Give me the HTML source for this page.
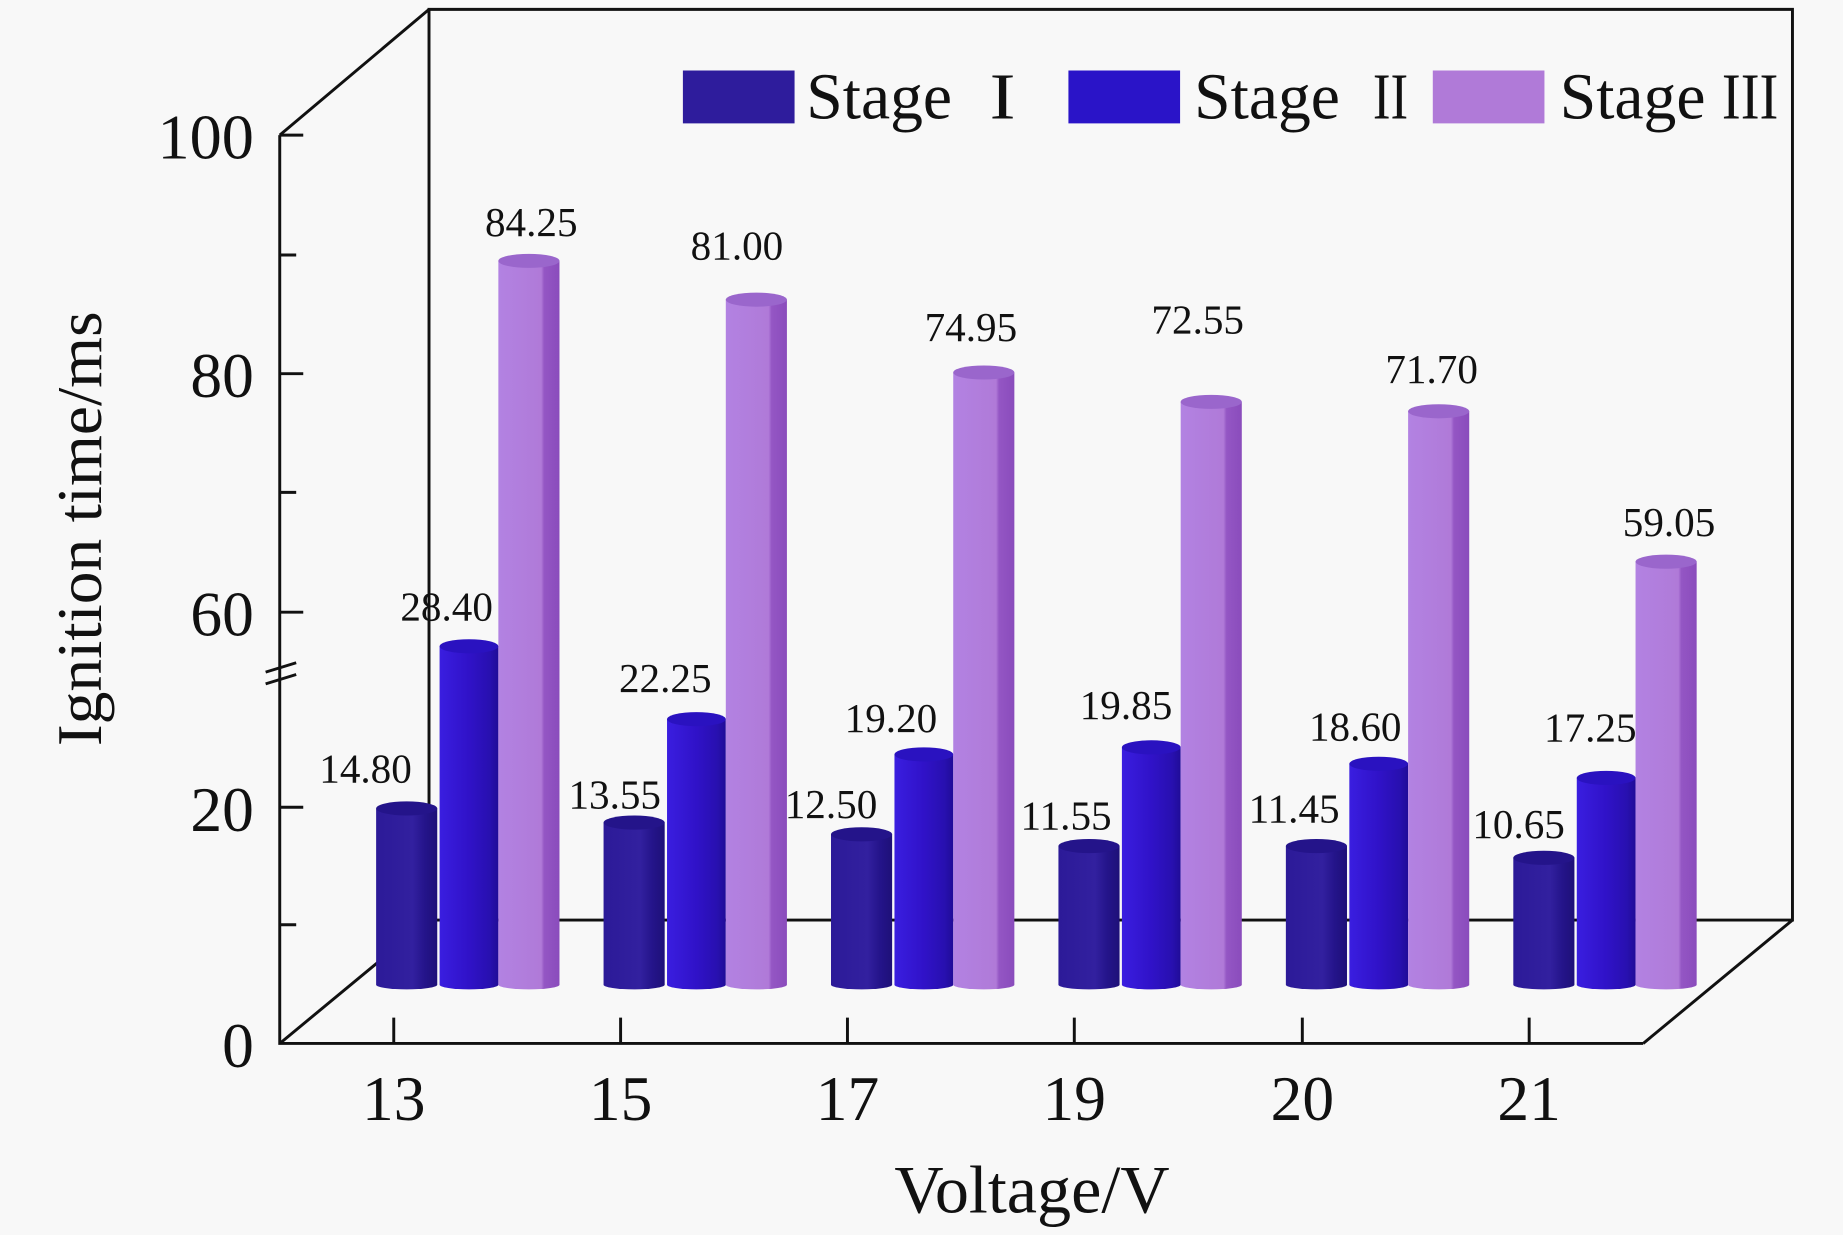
<!DOCTYPE html>
<html><head><meta charset="utf-8"><style>
html,body{margin:0;padding:0;background:#f8f8f8;}
svg{display:block;}
text{font-family:"Liberation Serif",serif;fill:#111;}
</style></head><body>
<svg width="1843" height="1235" viewBox="0 0 1568 1051" preserveAspectRatio="none" xmlns="http://www.w3.org/2000/svg">
<defs>
<linearGradient id="g1" x1="0" x2="1"><stop offset="0" stop-color="#2c1a98"/><stop offset="0.6" stop-color="#32209f"/><stop offset="0.8" stop-color="#24148a"/><stop offset="1" stop-color="#1e1078"/></linearGradient>
<linearGradient id="g2" x1="0" x2="1"><stop offset="0" stop-color="#3a1ee0"/><stop offset="0.5" stop-color="#3012c8"/><stop offset="0.85" stop-color="#2810b0"/><stop offset="1" stop-color="#200c98"/></linearGradient>
<linearGradient id="g3" x1="0" x2="1"><stop offset="0" stop-color="#b282e2"/><stop offset="0.7" stop-color="#b07ad8"/><stop offset="0.75" stop-color="#9456c4"/><stop offset="1" stop-color="#8a4cbc"/></linearGradient>
</defs>
<rect width="1568" height="1051" fill="#f8f8f8"/>
<g stroke="#111" stroke-width="2.5" fill="none">
<path d="M365 783 V8 H1525 V783 H365"/>
<path d="M238 115 L365 8"/>
<path d="M238 888 L365 783"/>
<path d="M1398 888 L1525 783"/>
<path d="M238 115 V888 H1398"/>
<path d="M238 115 h20 M238 217 h14 M238 318 h20 M238 419 h14 M238 521 h20 M238 687 h20 M238 787 h14"/>
<path d="M335 888 v-22 M528 888 v-22 M721 888 v-22 M914 888 v-22 M1108 888 v-22 M1301 888 v-22"/>
<path d="M226 572 l26 -8 M226 582 l26 -8"/>
</g>
<g font-size="54" text-anchor="end">
<text x="216" y="135" textLength="82" lengthAdjust="spacingAndGlyphs">100</text><text x="216" y="338">80</text><text x="216" y="541">60</text><text x="216" y="707">20</text><text x="216" y="908">0</text>
</g>
<g font-size="54" text-anchor="middle">
<text x="335" y="953">13</text><text x="528" y="953">15</text><text x="721" y="953">17</text><text x="914" y="953">19</text><text x="1108" y="953">20</text><text x="1301" y="953">21</text>
<text x="878" y="1032" font-size="58">Voltage/V</text>
<text transform="translate(86,450) rotate(-90)" font-size="54" textLength="370" lengthAdjust="spacingAndGlyphs">Ignition time/ms</text>
</g>
<g id="bars"></g>
<g font-size="35" text-anchor="middle">
<text x="311" y="666">14.80</text><text x="380" y="528">28.40</text><text x="452" y="201">84.25</text>
<text x="523" y="688">13.55</text><text x="566" y="589">22.25</text><text x="627" y="221">81.00</text>
<text x="707" y="696">12.50</text><text x="758" y="623">19.20</text><text x="826" y="290">74.95</text>
<text x="907" y="706">11.55</text><text x="958" y="612">19.85</text><text x="1019" y="284">72.55</text>
<text x="1101" y="700">11.45</text><text x="1153" y="630">18.60</text><text x="1218" y="326">71.70</text>
<text x="1292" y="713">10.65</text><text x="1353" y="631">17.25</text><text x="1420" y="456">59.05</text>
</g>
<rect x="581" y="60" width="95" height="45" fill="#2e1c9c"/>
<rect x="909" y="60" width="95" height="45" fill="#2a14c8"/>
<rect x="1219" y="60" width="95" height="45" fill="#b07ad8"/>
<g font-size="56">
<text x="686" y="101" textLength="124" lengthAdjust="spacingAndGlyphs">Stage</text>
<text x="1016" y="101" textLength="124" lengthAdjust="spacingAndGlyphs">Stage</text>
<text x="1327" y="101" textLength="124" lengthAdjust="spacingAndGlyphs">Stage</text>
<text x="842" y="101" textLength="22" lengthAdjust="spacingAndGlyphs">I</text>
<text x="1168" y="101" textLength="30" lengthAdjust="spacingAndGlyphs">II</text>
<text x="1465" y="101" textLength="48" lengthAdjust="spacingAndGlyphs">III</text>
</g>
</svg>
<script>
var tops=[[688,550,222],[700,612,255],[710,642,317],[720,636,342],[720,650,350],[730,662,478]];
var g=document.getElementById('bars'),h='';
var offs=[[320,52],[374,50],[424,52]],cols=['url(#g1)','url(#g2)','url(#g3)'],capc=['#24148a','#2a12c0','#9a66cc'];
for(var i=0;i<6;i++){for(var k=0;k<3;k++){var x=offs[k][0]+i*193.5,w=offs[k][1],t=tops[i][k];
h+='<path d="M'+x+' '+t+' V838 A'+(w/2)+' 4 0 0 0 '+(x+w)+' 838 V'+t+' Z" fill="'+cols[k]+'"/>';
h+='<ellipse cx="'+(x+w/2)+'" cy="'+t+'" rx="'+(w/2)+'" ry="6" fill="'+capc[k]+'"/>';}}
g.innerHTML=h;
</script>
</body></html>
